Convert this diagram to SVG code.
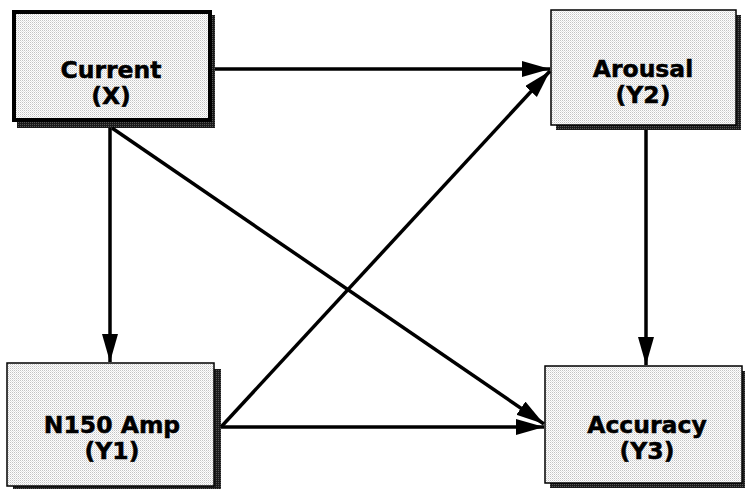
<svg xmlns="http://www.w3.org/2000/svg" width="745" height="489" viewBox="0 0 745 489">
  <defs>
    <pattern id="stip" width="2" height="2" patternUnits="userSpaceOnUse">
      <rect width="2" height="2" fill="#ffffff"/>
      <rect x="0" y="0" width="1" height="1" fill="#c4c4c4"/>
      <rect x="1" y="1" width="1" height="1" fill="#e2e2e2"/>
    </pattern>
    <pattern id="dark" width="2" height="2" patternUnits="userSpaceOnUse">
      <rect width="2" height="2" fill="#1a1a1a"/>
      <rect x="0" y="0" width="1" height="1" fill="#555"/>
    </pattern>
    <marker id="arr" markerUnits="userSpaceOnUse" markerWidth="30" markerHeight="18" refX="28" refY="8" orient="auto">
      <path d="M0,0 L28,8 L0,16 Z" fill="#000"/>
    </marker>
  </defs>
  <style>
    .box { fill: url(#stip); stroke: #000; stroke-width: 1.5; }
    .boxthick { fill: url(#stip); stroke: #000; stroke-width: 4; }
    .shadow { fill: url(#dark); }
    .lbl { font-family: "DejaVu Sans", Verdana, sans-serif; font-weight: bold; font-size: 23.5px; fill: #000; stroke: #000; stroke-width: 0.5; text-anchor: middle; }
    .conn { stroke: #000; stroke-width: 3.5; fill: none; marker-end: url(#arr); }
  </style>
  <rect width="745" height="489" fill="#fff"/>

  <g id="current">
    <rect class="shadow" x="17" y="15" width="198" height="113"/>
    <rect class="boxthick" x="14" y="12" width="196" height="108"/>
    <text class="lbl" x="111" y="78">Current</text>
    <text class="lbl" x="111" y="104">(X)</text>
  </g>

  <g id="arousal">
    <rect class="shadow" x="556" y="15" width="185" height="115"/>
    <rect class="box" x="551" y="10" width="185" height="115"/>
    <text class="lbl" x="643" y="77">Arousal</text>
    <text class="lbl" x="643" y="103">(Y2)</text>
  </g>

  <g id="n150">
    <rect class="shadow" x="13" y="369" width="208" height="123"/>
    <rect class="box" x="7" y="363" width="207" height="123"/>
    <text class="lbl" x="112" y="433">N150 Amp</text>
    <text class="lbl" x="112" y="459">(Y1)</text>
  </g>

  <g id="accuracy">
    <rect class="shadow" x="550" y="371" width="197" height="117"/>
    <rect class="box" x="545" y="366" width="197" height="117"/>
    <text class="lbl" x="647" y="433">Accuracy</text>
    <text class="lbl" x="647" y="459">(Y3)</text>
  </g>

  <g id="connectors">
    <line class="conn" x1="215" y1="69" x2="550" y2="69"/>
    <line class="conn" x1="110" y1="128" x2="110" y2="362"/>
    <line class="conn" x1="112" y1="128" x2="544" y2="424"/>
    <line class="conn" x1="221" y1="427" x2="550" y2="71"/>
    <line class="conn" x1="221" y1="427" x2="544" y2="427"/>
    <line class="conn" x1="646" y1="130" x2="646" y2="365"/>
  </g>
</svg>
